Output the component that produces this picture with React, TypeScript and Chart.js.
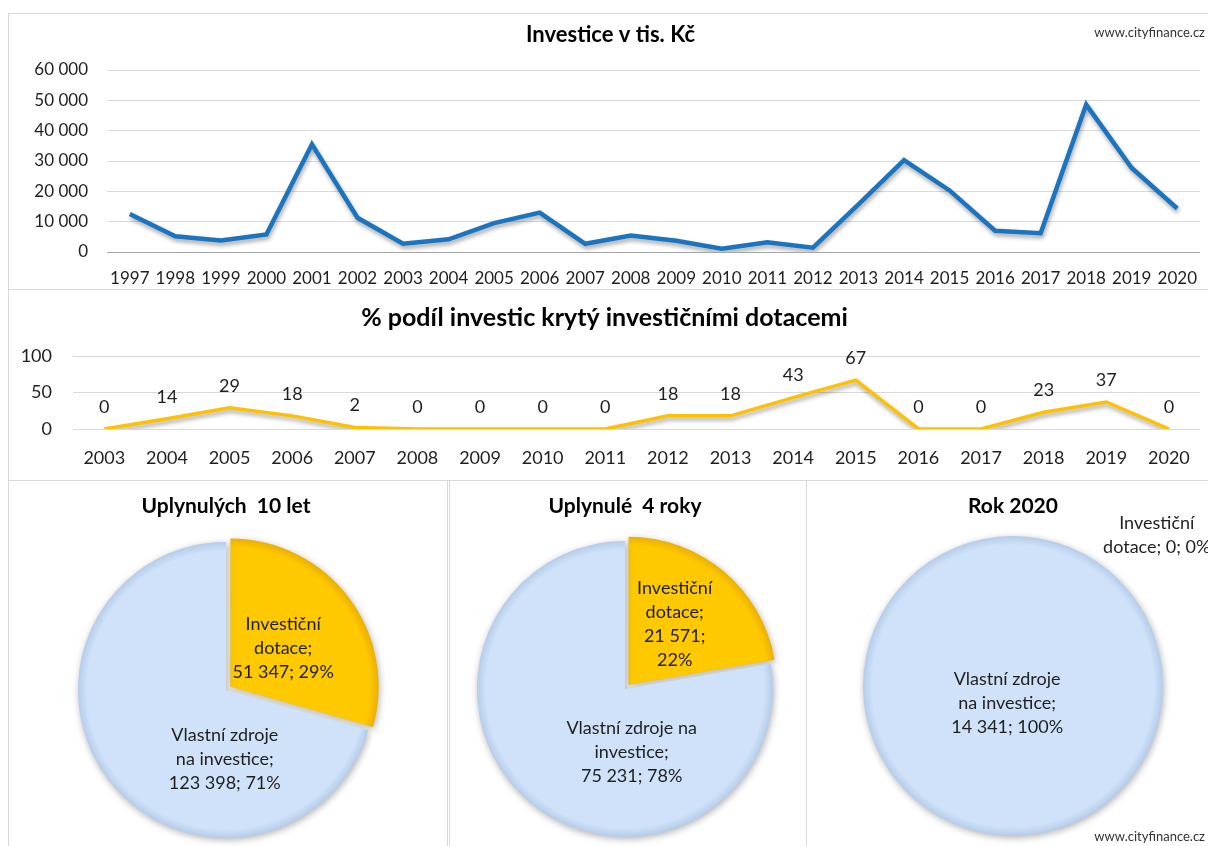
import React, { useEffect, useRef } from "react";
import { Chart, registerables } from "chart.js";
Chart.register(...registerables);

const FONT = "Lato, 'Noto Sans', sans-serif";
const TEXT = "#1f1f1f";

// ---------- data ----------
const investYears = ["1997", "1998", "1999", "2000", "2001", "2002", "2003", "2004", "2005", "2006", "2007", "2008", "2009", "2010", "2011", "2012", "2013", "2014", "2015", "2016", "2017", "2018", "2019", "2020"];
const investValues = [12500, 5200, 3800, 5800, 35500, 11300, 2700, 4200, 9500, 13000, 2700, 5400, 3700, 1100, 3200, 1400, 15700, 30300, 20300, 7000, 6200, 48600, 27700, 14341];
const investTicks = [0, 10000, 20000, 30000, 40000, 50000, 60000];

const shareYears = ["2003", "2004", "2005", "2006", "2007", "2008", "2009", "2010", "2011", "2012", "2013", "2014", "2015", "2016", "2017", "2018", "2019", "2020"];
const shareValues = [0, 14, 29, 18, 2, 0, 0, 0, 0, 18, 18, 43, 67, 0, 0, 23, 37, 0];
const shareTicks = [0, 50, 100];

const pieCategories = ["Investiční dotace", "Vlastní zdroje na investice"];
const pie10Values = [51347, 123398];
const pie4Values = [21571, 75231];
const pie2020Values = [0, 14341];

// ---------- helpers ----------
const fmt = (v: number) => String(Math.round(v)).replace(/\B(?=(\d{3})+(?!\d))/g, "\u00a0");

const lineShadow = {
  id: "lineShadow",
  beforeDatasetDraw(chart: any) {
    const c = chart.ctx;
    c.save();
    c.shadowColor = "rgba(0,0,0,0.35)";
    c.shadowBlur = 4;
    c.shadowOffsetX = 1;
    c.shadowOffsetY = 3;
  },
  afterDatasetDraw(chart: any) {
    chart.ctx.restore();
  },
};

const pieShadow = {
  id: "pieShadow",
  beforeDatasetDraw(chart: any) {
    const c = chart.ctx;
    c.save();
    c.shadowColor = "rgba(0,0,0,0.3)";
    c.shadowBlur = 7;
    c.shadowOffsetX = 1;
    c.shadowOffsetY = 2;
  },
  afterDatasetDraw(chart: any) {
    chart.ctx.restore();
  },
};

const shareLabels = {
  id: "shareLabels",
  afterDatasetsDraw(chart: any) {
    const meta = chart.getDatasetMeta(0);
    const c = chart.ctx;
    c.save();
    c.font = `18px ${FONT}`;
    c.fillStyle = TEXT;
    c.textAlign = "center";
    c.textBaseline = "middle";
    meta.data.forEach((pt: any, i: number) => {
      c.fillText(String(shareValues[i]), pt.x, pt.y - 22);
    });
    c.restore();
  },
};

type LabelLayout = { angle: number; dist: number; lines: number[] };

const makePieLabels = (layout: LabelLayout[]) => ({
  id: "pieLabels",
  afterDatasetsDraw(chart: any) {
    const meta = chart.getDatasetMeta(0);
    const values = chart.data.datasets[0].data as number[];
    const total = values.reduce((a, b) => a + b, 0);
    const arc0: any = meta.data[0];
    const cx = arc0.x, cy = arc0.y, r = arc0.outerRadius;
    const c = chart.ctx;
    c.save();
    c.font = `18px ${FONT}`;
    c.fillStyle = TEXT;
    c.textAlign = "center";
    c.textBaseline = "middle";
    values.forEach((v, i) => {
      const L = layout[i];
      const tokens = pieCategories[i].split(" ");
      tokens[tokens.length - 1] += ";";
      tokens.push(fmt(v) + ";", Math.round((v / total) * 100) + "%");
      const lines: string[] = [];
      let k = 0;
      L.lines.forEach((n) => {
        lines.push(tokens.slice(k, k + n).join(" "));
        k += n;
      });
      const a = (L.angle * Math.PI) / 180;
      const x = cx + L.dist * r * Math.sin(a);
      const y = cy - L.dist * r * Math.cos(a);
      const lh = 24;
      lines.forEach((t, j) => c.fillText(t, x, y + (j - (lines.length - 1) / 2) * lh));
    });
    c.restore();
  },
});

const PIE_COLORS = [
  { base: "#FFC900", rim: "#ECB000" },
  { base: "#CFE2F9", rim: "#B5CCEA" },
];

const pieFill = (radius: number) => (c: any) => {
  const col = PIE_COLORS[c.dataIndex] || PIE_COLORS[0];
  const ca = c.chart.chartArea;
  if (!ca) return col.base;
  const cx = (ca.left + ca.right) / 2, cy = (ca.top + ca.bottom) / 2;
  const g = c.chart.ctx.createRadialGradient(cx, cy, 0, cx, cy, radius + 3);
  g.addColorStop(0, col.base);
  g.addColorStop(0.92, col.base);
  g.addColorStop(0.98, col.rim);
  g.addColorStop(1, col.rim);
  return g;
};

// ---------- configs ----------
const investConfig = () => ({
  type: "line",
  data: {
    labels: investYears,
    datasets: [{ data: investValues, borderColor: "#1B74C0", borderWidth: 4.5, pointRadius: 0, tension: 0, fill: false }],
  },
  options: {
    animation: false,
    responsive: false,
    layout: { padding: 0 },
    plugins: {
      legend: { display: false },
      tooltip: { enabled: false },
      title: {
        display: true,
        text: "Investice v tis. Kč",
        color: "#000",
        font: { family: FONT, size: 22, weight: "bold" },
        padding: { top: 8.8, bottom: 21.8 },
      },
    },
    scales: {
      x: {
        offset: true,
        grid: { display: false, drawTicks: false },
        border: { display: false },
        ticks: { autoSkip: false, maxRotation: 0, padding: 16, color: TEXT, font: { family: FONT, size: 17 } },
        afterFit: (s: any) => { s.height = 38; },
      },
      y: {
        min: investTicks[0],
        max: investTicks[investTicks.length - 1],
        afterBuildTicks: (s: any) => { s.ticks = investTicks.map((v) => ({ value: v })); },
        grid: { drawTicks: false, color: (c: any) => (c.tick && c.tick.value === 0 ? "#A6A6A6" : "#D9D9D9") },
        border: { display: false },
        ticks: { padding: 19, color: TEXT, font: { family: FONT, size: 17 }, callback: (v: any) => fmt(Number(v)) },
        afterFit: (s: any) => { s.width = 99; },
      },
    },
  },
  plugins: [lineShadow],
});

const shareConfig = () => ({
  type: "line",
  data: {
    labels: shareYears,
    datasets: [{ data: shareValues, borderColor: "#FFC000", borderWidth: 3.5, pointRadius: 0, tension: 0, fill: false }],
  },
  options: {
    animation: false,
    responsive: false,
    layout: { padding: { left: 0, right: 7, top: 0, bottom: 0 } },
    plugins: {
      legend: { display: false },
      tooltip: { enabled: false },
      title: {
        display: true,
        text: "% podíl investic krytý investičními dotacemi",
        color: "#000",
        font: { family: FONT, size: 25, weight: "bold" },
        padding: { top: 13, bottom: 23 },
      },
    },
    scales: {
      x: {
        offset: true,
        grid: { display: false, drawTicks: false },
        border: { display: false },
        ticks: { autoSkip: false, maxRotation: 0, padding: 18, color: TEXT, font: { family: FONT, size: 18 } },
        afterFit: (s: any) => { s.height = 51; },
      },
      y: {
        min: shareTicks[0],
        max: shareTicks[shareTicks.length - 1],
        afterBuildTicks: (s: any) => { s.ticks = shareTicks.map((v) => ({ value: v })); },
        grid: { drawTicks: false, color: "#D9D9D9" },
        border: { display: false },
        ticks: { padding: 21, color: TEXT, font: { family: FONT, size: 18 } },
        afterFit: (s: any) => { s.width = 65; },
      },
    },
  },
  plugins: [lineShadow, shareLabels],
});

const pieConfig = (
  title: string,
  values: number[],
  radius: number,
  offsets: number[],
  padding: any,
  layout: LabelLayout[]
) => () => ({
  type: "pie",
  data: {
    labels: pieCategories,
    datasets: [{ data: values, backgroundColor: pieFill(radius), borderWidth: 0, offset: offsets, radius }],
  },
  options: {
    animation: false,
    responsive: false,
    radius,
    layout: { padding },
    plugins: {
      legend: { display: false },
      tooltip: { enabled: false },
      title: {
        display: true,
        text: title,
        color: "#000",
        font: { family: FONT, size: 21, weight: "bold" },
        padding: { top: 12.4, bottom: 9.4 },
      },
    },
  },
  plugins: [pieShadow, makePieLabels(layout)],
});

const pie10Config = pieConfig("Uplynulých  10 let", pie10Values, 148, [22, 0], { left: 0, right: 4, top: 0, bottom: 69 }, [
  { angle: 53.6, dist: 0.48, lines: [1, 1, 2] },
  { angle: 181, dist: 0.47, lines: [2, 2, 2] },
]);
const pie4Config = pieConfig("Uplynulé  4 roky", pie4Values, 148, [22, 0], { left: 0, right: 6, top: 0, bottom: 71 }, [
  { angle: 37.6, dist: 0.55, lines: [1, 1, 1, 1] },
  { angle: 174, dist: 0.43, lines: [3, 1, 2] },
]);
const pie2020Config = pieConfig("Rok 2020", pie2020Values, 150, [0, 0], { left: 0, right: 0, top: 0, bottom: 77 }, [
  { angle: 43.6, dist: 1.39, lines: [1, 3] },
  { angle: 199, dist: 0.12, lines: [2, 2, 2] },
]);

// ---------- components ----------
function ChartCanvas({ x, y, w, h, make }: { x: number; y: number; w: number; h: number; make: () => any }) {
  const ref = useRef<HTMLCanvasElement>(null);
  useEffect(() => {
    const chart = new Chart(ref.current as HTMLCanvasElement, make() as any);
    return () => chart.destroy();
  }, []);
  return (
    <canvas
      ref={ref}
      width={w}
      height={h}
      style={{ position: "absolute", left: x, top: y, width: w, height: h }}
    />
  );
}

function Frame({ x, y, w, h }: { x: number; y: number; w: number; h: number }) {
  return (
    <div
      style={{
        position: "absolute",
        left: x,
        top: y,
        width: w,
        height: h,
        border: "1px solid #D9D9D9",
        boxSizing: "border-box",
      }}
    />
  );
}

const watermark: React.CSSProperties = {
  position: "absolute",
  right: 3,
  fontFamily: FONT,
  fontSize: 13,
  color: "#333",
  whiteSpace: "nowrap",
};

export default function App() {
  return (
    <div
      style={{
        position: "fixed",
        left: 0,
        top: 0,
        width: 1208,
        height: 846,
        overflow: "hidden",
        background: "#fff",
      }}
    >
      <Frame x={8} y={13} w={1230} h={277} />
      <Frame x={8} y={289} w={1230} h={192} />
      <Frame x={8} y={480} w={440} h={400} />
      <Frame x={449} y={480} w={358} h={400} />
      <Frame x={806} y={480} w={430} h={400} />
      <ChartCanvas x={8} y={13} w={1205} h={277} make={investConfig} />
      <ChartCanvas x={8} y={290} w={1200} h={190} make={shareConfig} />
      <ChartCanvas x={9} y={481} w={438} h={440} make={pie10Config} />
      <ChartCanvas x={451} y={481} w={354} h={440} make={pie4Config} />
      <ChartCanvas x={807} y={481} w={412} h={440} make={pie2020Config} />
      <div style={{ ...watermark, top: 24 }}>www.cityfinance.cz</div>
      <div style={{ ...watermark, top: 828 }}>www.cityfinance.cz</div>
    </div>
  );
}
